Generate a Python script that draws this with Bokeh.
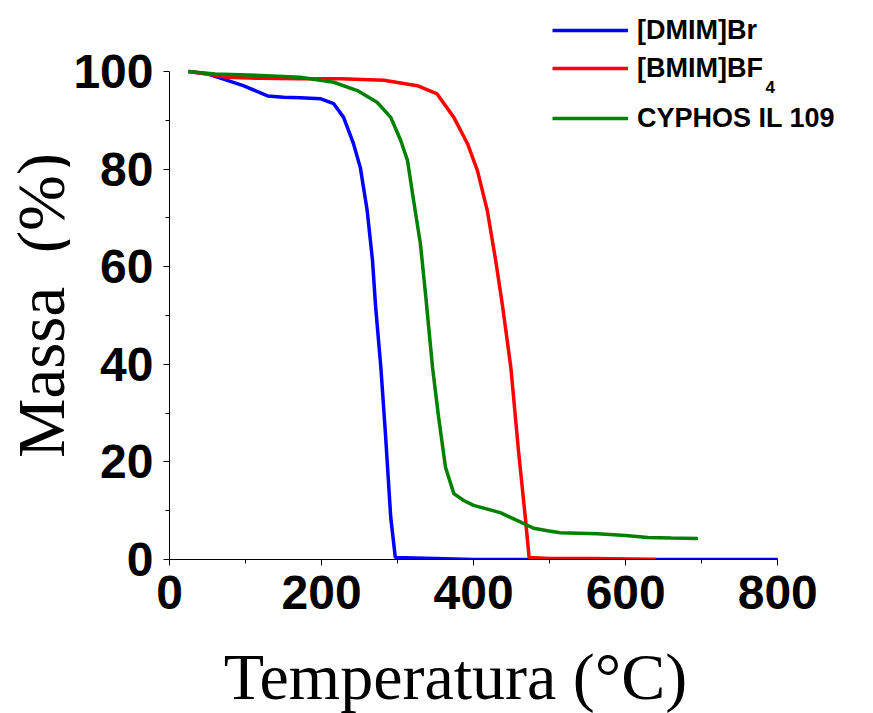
import math
from bokeh.plotting import figure
from bokeh.layouts import row, column
from bokeh.models import Range1d, FixedTicker, Label, Legend, LegendItem
from bokeh.embed import file_html
from bokeh.resources import INLINE

# ---- data ----
temp_dmim = [25, 50, 76, 97, 129, 150, 172, 199, 216, 229, 242, 251, 260, 267, 271,
             278, 284, 291, 297, 350, 400, 500, 600, 700, 800]
mass_dmim = [100, 99.5, 98.2, 97.1, 95.0, 94.7, 94.6, 94.4, 93.4, 90.6, 85.2, 80.3, 71.5, 61.3, 52.0,
             39.3, 25.8, 8.6, 0.4, 0.2, 0.0, 0.0, 0.0, 0.0, 0.0]

temp_bmim = [25, 50, 76, 120, 170, 225, 282, 326, 352, 374, 392, 405, 418, 429, 438,
             449, 459, 468, 473, 500, 560, 640]
mass_bmim = [100, 99.5, 98.8, 98.6, 98.5, 98.5, 98.2, 97.1, 95.4, 90.6, 85.2, 79.7, 71.5, 61.3, 52.0,
             39.3, 22.3, 8.6, 0.4, 0.2, 0.2, 0.0]

temp_cyph = [25, 60, 120, 172, 216, 247, 273, 291, 304, 313, 321, 330, 337, 346, 354,
             363, 374, 387, 400, 435, 457, 479, 497, 514, 563, 600, 629, 660, 695]
mass_cyph = [100, 99.5, 99.2, 98.8, 97.8, 96.1, 93.7, 90.6, 85.9, 81.8, 73.6, 64.7, 54.0, 39.3, 29.1,
             18.9, 13.5, 12.1, 11.1, 9.6, 8.0, 6.4, 5.9, 5.5, 5.3, 4.9, 4.5, 4.4, 4.3]

series_names = ["[DMIM]Br", "[BMIM]BF", "CYPHOS IL 109"]
series_colors = ["#0000FF", "#FF0000", "#008000"]

x_ticks = [0, 200, 400, 600, 800]
x_minor = [100, 300, 500, 700]
y_ticks = [0, 20, 40, 60, 80, 100]
y_minor = [10, 30, 50, 70, 90]

x_title = "Temperatura (°C)"
y_title = "Massa\u00a0\u00a0(%)"

TOTAL_W, TOTAL_H = 873, 713
LEFT_W = 70          # strip holding the y title
MAIN_H = 640         # main chart height; strip below holds the x title
BOT_H = TOTAL_H - MAIN_H
FRAME_L, FRAME_B = 169, 559   # page position of the axes corner
FRAME_R = TOTAL_W - 3


def blank(w, h, xr):
    f = figure(width=w, height=h, output_backend="svg", toolbar_location=None,
               x_range=Range1d(*xr), y_range=Range1d(0, h),
               x_axis_location=None, y_axis_location=None,
               min_border=0, min_border_left=0, min_border_right=0,
               min_border_top=0, min_border_bottom=0)
    f.outline_line_color = None
    f.xgrid.grid_line_color = None
    f.ygrid.grid_line_color = None
    f.background_fill_color = "white"
    f.border_fill_color = "white"
    return f


# ---- left strip: y-axis title (rotated, centred anchor) ----
pl = blank(LEFT_W, TOTAL_H, (0, LEFT_W))
pl.add_layout(Label(x=40, y=TOTAL_H - 305, text=y_title, angle=math.pi / 2,
                    text_font="Liberation Serif", text_font_size="67px",
                    text_baseline="middle", text_align="center", text_color="black"))

# ---- main chart ----
p = figure(width=TOTAL_W - LEFT_W, height=MAIN_H, output_backend="svg", toolbar_location=None,
           x_range=Range1d(0, 922), y_range=Range1d(0, 112.5),
           min_border_left=FRAME_L - LEFT_W, min_border_right=TOTAL_W - FRAME_R, min_border_top=10,
           min_border_bottom=MAIN_H - FRAME_B)
p.outline_line_color = None
p.xgrid.grid_line_color = None
p.ygrid.grid_line_color = None
p.background_fill_color = "white"
p.border_fill_color = "white"

for ax, t, mt in ((p.xaxis[0], x_ticks, x_minor), (p.yaxis[0], y_ticks, y_minor)):
    ax.ticker = FixedTicker(ticks=t, minor_ticks=mt)
    ax.axis_line_color = "black"
    ax.axis_line_width = 1
    ax.major_tick_line_color = "black"
    ax.minor_tick_line_color = "black"
    ax.major_tick_in = 0
    ax.major_tick_out = 6
    ax.minor_tick_in = 0
    ax.minor_tick_out = 4
    ax.major_label_text_font = "Liberation Sans"
    ax.major_label_text_font_style = "bold"
    ax.major_label_text_font_size = "48px"
    ax.major_label_text_color = "black"
    ax.major_label_standoff = 10
p.xaxis.bounds = (0, 800)
p.yaxis.bounds = (0, 100)

r1 = p.line(temp_dmim, mass_dmim, line_color=series_colors[0], line_width=3.5)
r2 = p.line(temp_bmim, mass_bmim, line_color=series_colors[1], line_width=3.5)
r3 = p.line(temp_cyph, mass_cyph, line_color=series_colors[2], line_width=3.5)

legend_y = [511, 473, 423]
for r, lab, vy in zip((r1, r2, r3), series_names, legend_y):
    lg = Legend(items=[LegendItem(label=lab, renderers=[r])], location=(383, vy),
                padding=0, margin=0, spacing=0, glyph_width=76, glyph_height=36,
                label_height=36, label_standoff=9,
                label_text_font="Liberation Sans", label_text_font_style="bold",
                label_text_font_size="27px", label_text_color="black",
                border_line_alpha=0, background_fill_alpha=0)
    p.add_layout(lg, "center")

# subscript 4 of BF4
p.add_layout(Label(x=596, y=473, x_units="screen", y_units="screen", text="4",
                   text_font="Liberation Sans", text_font_style="bold", text_font_size="17px",
                   text_baseline="alphabetic", text_align="left", text_color="black"))

# ---- bottom strip: x-axis title (its frame is aligned with the main frame) ----
pb = blank(TOTAL_W - LEFT_W, BOT_H, (FRAME_L, FRAME_R))
pb.add_layout(Label(x=455, y=TOTAL_H - 676, text=x_title,
                    text_font="Liberation Serif", text_font_size="66px",
                    text_baseline="middle", text_align="center", text_color="black"))

open("out.html", "w").write(file_html(row(pl, column(p, pb)), INLINE))
